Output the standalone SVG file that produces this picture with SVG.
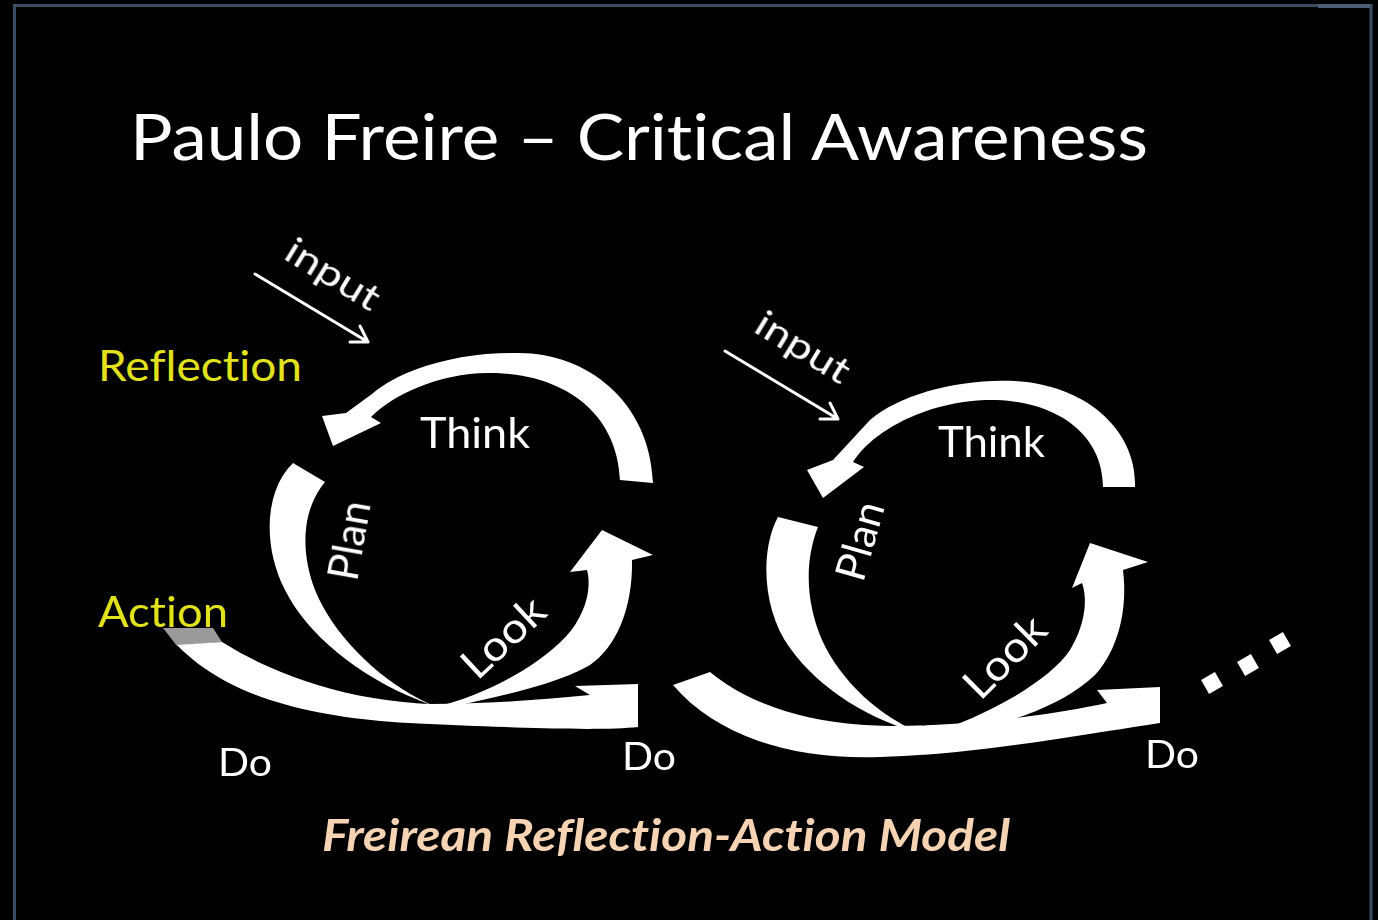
<svg xmlns="http://www.w3.org/2000/svg" width="1378" height="920" viewBox="0 0 1378 920">
  <style>
    text { font-variant-ligatures: none; }
    .lbl { font-family: Lato, "Open Sans", "Liberation Sans", sans-serif; fill: #ffffff; }
    .yel { font-family: Lato, "Open Sans", "Liberation Sans", sans-serif; fill: #e2e21c; }
    .band { fill: #ffffff; }
    .frame { fill: none; stroke: #3b4d63; stroke-width: 3; }
    .inarrow { fill: none; stroke: #ffffff; stroke-width: 3; stroke-linecap: round; stroke-linejoin: round; }
  </style>
  <defs>
    <filter id="soft" x="-5%" y="-5%" width="110%" height="110%">
      <feGaussianBlur stdDeviation="0.7"/>
    </filter>
  </defs>

  <!-- background and slide frame -->
  <rect x="0" y="0" width="1378" height="920" fill="#000000"/>
  <path class="frame" d="M14.5,925 V5.5 H1371 V925"/>
  <rect x="1318" y="4" width="52" height="4" fill="#4a5d75"/>

  <!-- title -->
  <g id="title">
    <text class="lbl" x="130" y="160" font-size="64" textLength="1018" lengthAdjust="spacingAndGlyphs">Paulo Freire – Critical Awareness</text>
  </g>

  <!-- side labels -->
  <g id="reflection">
    <text class="yel" x="98" y="381" font-size="42" textLength="204" lengthAdjust="spacingAndGlyphs">Reflection</text>
  </g>

  <!-- cycle arrows -->
  <g id="connectors" filter="url(#soft)">
    <!-- first cycle -->
    <g id="cycle1">
      <!-- Think: top arc, head pointing down-left -->
      <path class="band" d="M653,483 C650,400 585,352 517,353 C455,352 400,370 372,394 L346,413 L322,416 L333,446 L381,423 L371,417 C395,392 445,373 487,373 C560,372 617,410 620,480 Z"/>
      <!-- Plan: left crescent -->
      <path class="band" d="M293,463 C265,490 262,545 285,590 C310,640 370,685 440,708 C390,690 335,640 315,590 C300,550 302,510 325,482 Z"/>
      <!-- Look: rising crescent, head pointing up -->
      <path class="band" d="M440,706 C500,690 555,655 575,625 C588,605 591,585 587,570 L570,572 L602,530 L653,555 L632,560 C633,610 615,648 590,665 C560,683 500,697 440,709 Z"/>
      <!-- Do: bottom sweep from Action -->
      <path fill="#9a9a9a" d="M163,628 L213,628 L222,642 L177,646 Z"/>
      <path class="band" d="M177,645 C230,700 320,720 430,724 C520,728 600,731 638,727 L638,684 L575,686 L590,695 C540,700 480,704 430,704 C340,700 270,672 222,642 Z"/>
    </g>
    <!-- second cycle -->
    <g id="cycle2">
      <path class="band" d="M1135,487 C1137,440 1100,392 1027,382 C975,376 905,390 870,420 L833,460 L807,470 L823,498 L864,467 L853,462 C875,428 930,402 985,400 C1050,398 1103,430 1103,487 Z"/>
      <path class="band" d="M778,517 C760,550 762,610 790,648 C820,690 870,720 925,735 C880,718 840,680 822,640 C805,600 805,560 818,527 Z"/>
      <path class="band" d="M925,736 C990,715 1050,680 1070,650 C1085,625 1088,600 1082,583 L1072,588 L1090,543 L1148,562 L1123,570 C1128,610 1118,650 1095,675 C1060,708 1000,728 925,739 Z"/>
      <path class="band" d="M673,685 C720,740 800,760 880,757 C980,754 1080,735 1160,723 L1160,687 L1097,690 L1107,703 C1050,715 970,726 890,726 C810,725 750,705 710,672 Z"/>
    </g>
    <!-- continuation dots -->
    <g id="ellipsis" fill="#ffffff">
      <rect x="-8" y="-8" width="16" height="16" transform="translate(1212,683) rotate(-30)"/>
      <rect x="-8" y="-8" width="16" height="16" transform="translate(1248,665) rotate(-30)"/>
      <rect x="-8" y="-8" width="16" height="16" transform="translate(1280,643) rotate(-30)"/>
    </g>
    <!-- input arrows -->
    <g id="input-arrows">
      <path class="inarrow" d="M255,274 L368,342 M350,342 L368,342 L360,326"/>
      <path class="inarrow" d="M725,351 L838,419 M820,419 L838,419 L830,403"/>
    </g>
  </g>

  <g id="action">
    <text class="yel" x="98" y="627" font-size="42" textLength="130" lengthAdjust="spacingAndGlyphs">Action</text>
  </g>

  <!-- input labels -->
  <g id="input1">
    <text class="lbl" font-size="36" textLength="104" lengthAdjust="spacingAndGlyphs" transform="translate(282,258) rotate(31.5)">input</text>
  </g>
  <g id="input2">
    <text class="lbl" font-size="36" textLength="104" lengthAdjust="spacingAndGlyphs" transform="translate(752,331) rotate(31.5)">input</text>
  </g>

  <!-- step labels, first cycle -->
  <g id="think1"><text class="lbl" x="420" y="448" font-size="42" textLength="110" lengthAdjust="spacingAndGlyphs">Think</text></g>
  <g id="plan1"><text class="lbl" font-size="42" text-anchor="middle" textLength="80" lengthAdjust="spacingAndGlyphs" transform="translate(364,543) rotate(-80)">Plan</text></g>
  <g id="look1"><text class="lbl" font-size="42" text-anchor="middle" textLength="98" lengthAdjust="spacingAndGlyphs" transform="translate(513,648) rotate(-43)">Look</text></g>
  <g id="do1"><text class="lbl" x="218" y="776" font-size="38" textLength="54" lengthAdjust="spacingAndGlyphs">Do</text></g>
  <g id="do2"><text class="lbl" x="622" y="770" font-size="38" textLength="54" lengthAdjust="spacingAndGlyphs">Do</text></g>

  <!-- step labels, second cycle -->
  <g id="think2"><text class="lbl" x="938" y="457" font-size="42" textLength="107" lengthAdjust="spacingAndGlyphs">Think</text></g>
  <g id="plan2"><text class="lbl" font-size="42" text-anchor="middle" textLength="80" lengthAdjust="spacingAndGlyphs" transform="translate(874,545) rotate(-74)">Plan</text></g>
  <g id="look2"><text class="lbl" font-size="42" text-anchor="middle" textLength="98" lengthAdjust="spacingAndGlyphs" transform="translate(1015,667) rotate(-45)">Look</text></g>
  <g id="do3"><text class="lbl" x="1145" y="768" font-size="38" textLength="54" lengthAdjust="spacingAndGlyphs">Do</text></g>

  <!-- caption -->
  <g id="caption">
    <text x="322" y="851" font-family="Lato, Open Sans, Liberation Sans, sans-serif" font-size="44" font-weight="bold" font-style="italic" fill="#f5d3b3" textLength="688" lengthAdjust="spacingAndGlyphs">Freirean Reflection-Action Model</text>
  </g>
</svg>
